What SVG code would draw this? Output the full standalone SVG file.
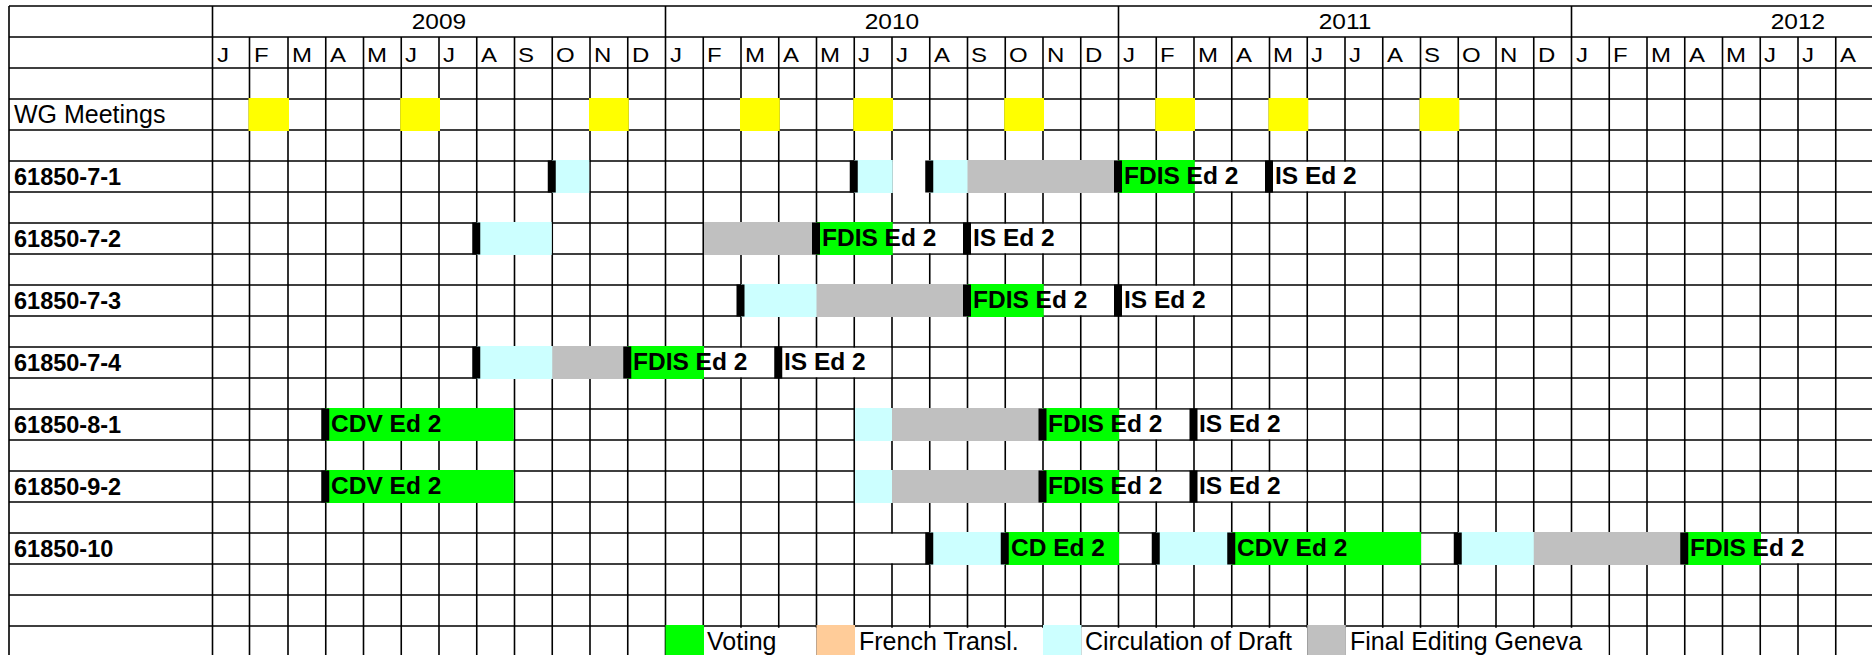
<svg xmlns="http://www.w3.org/2000/svg" width="1872" height="655" viewBox="0 0 1872 655">
<style>
.bg{fill:#fff}
.grid{stroke:#000;stroke-width:1.6;fill:none}
.wg{fill:#ffff00}
.vote{fill:#00ff00}
.circ{fill:#ccffff}
.edit{fill:#c0c0c0}
.fr{fill:#ffcc99}
.wh{fill:#fff}
.mk{fill:#000}
text{font-family:"Liberation Sans",Arial,sans-serif;fill:#000}
.yr{font-size:24.5px}
.mo{font-size:24px}
.lab{font-size:25px}
.labb{font-size:23.5px;font-weight:bold}
.bt{font-size:24.5px;font-weight:bold}
.lg{font-size:25px}
</style>
<rect class="bg" x="0" y="0" width="1872" height="655"/>
<g id="grid">
<path class="grid" d="M9 6H1872M9 37H1872M9 68H1872M9 99H1872M9 130H1872M9 161H1872M9 192H1872M9 223H1872M9 254H1872M9 285H1872M9 316H1872M9 347H1872M9 378H1872M9 409H1872M9 440H1872M9 471H1872M9 502H1872M9 533H1872M9 564H1872M9 595H1872M9 626H1872"/>
<path class="grid" d="M9 6V655M212.5 6V655M665.5 6V655M1118.5 6V655M1571.5 6V655M249.5 37V655M288 37V655M325.75 37V655M363.5 37V655M401.25 37V655M439 37V655M476.75 37V655M514.5 37V655M552.25 37V655M590 37V655M627.75 37V655M703.25 37V655M741 37V655M778.75 37V655M816.5 37V655M854.25 37V655M892 37V655M929.75 37V655M967.5 37V655M1005.25 37V655M1043 37V655M1080.75 37V655M1156.25 37V655M1194 37V655M1231.75 37V655M1269.5 37V655M1307.25 37V655M1345 37V655M1382.75 37V655M1420.5 37V655M1458.25 37V655M1496 37V655M1533.75 37V655M1609.25 37V655M1647 37V655M1684.75 37V655M1722.5 37V655M1760.25 37V655M1798 37V655M1835.75 37V655"/>
</g>
<g id="header">
<g transform="translate(0 29) scale(1 0.88)">
<text class="yr" x="439" y="0" text-anchor="middle">2009</text>
<text class="yr" x="892" y="0" text-anchor="middle">2010</text>
<text class="yr" x="1345" y="0" text-anchor="middle">2011</text>
<text class="yr" x="1798" y="0" text-anchor="middle">2012</text>
</g>
<g transform="translate(0 62) scale(1 0.88)">
<text class="mo" x="217" y="0">J</text><text class="mo" x="254" y="0">F</text><text class="mo" x="292" y="0">M</text><text class="mo" x="330" y="0">A</text><text class="mo" x="367" y="0">M</text><text class="mo" x="405" y="0">J</text><text class="mo" x="443" y="0">J</text><text class="mo" x="481" y="0">A</text><text class="mo" x="518" y="0">S</text><text class="mo" x="556" y="0">O</text><text class="mo" x="594" y="0">N</text><text class="mo" x="632" y="0">D</text>
<text class="mo" x="670" y="0">J</text><text class="mo" x="707" y="0">F</text><text class="mo" x="745" y="0">M</text><text class="mo" x="783" y="0">A</text><text class="mo" x="820" y="0">M</text><text class="mo" x="858" y="0">J</text><text class="mo" x="896" y="0">J</text><text class="mo" x="934" y="0">A</text><text class="mo" x="971" y="0">S</text><text class="mo" x="1009" y="0">O</text><text class="mo" x="1047" y="0">N</text><text class="mo" x="1085" y="0">D</text>
<text class="mo" x="1123" y="0">J</text><text class="mo" x="1160" y="0">F</text><text class="mo" x="1198" y="0">M</text><text class="mo" x="1236" y="0">A</text><text class="mo" x="1273" y="0">M</text><text class="mo" x="1311" y="0">J</text><text class="mo" x="1349" y="0">J</text><text class="mo" x="1387" y="0">A</text><text class="mo" x="1424" y="0">S</text><text class="mo" x="1462" y="0">O</text><text class="mo" x="1500" y="0">N</text><text class="mo" x="1538" y="0">D</text>
<text class="mo" x="1576" y="0">J</text><text class="mo" x="1613" y="0">F</text><text class="mo" x="1651" y="0">M</text><text class="mo" x="1689" y="0">A</text><text class="mo" x="1726" y="0">M</text><text class="mo" x="1764" y="0">J</text><text class="mo" x="1802" y="0">J</text><text class="mo" x="1840" y="0">A</text>
</g>
</g>
<g id="wg-meetings">
<text class="lab" x="14" y="123">WG Meetings</text>
<rect class="wg" x="248.5" y="98" width="40.5" height="33"/>
<rect class="wg" x="400.25" y="98" width="39.75" height="33"/>
<rect class="wg" x="589" y="98" width="39.75" height="33"/>
<rect class="wg" x="740" y="98" width="39.75" height="33"/>
<rect class="wg" x="853.25" y="98" width="39.75" height="33"/>
<rect class="wg" x="1004.25" y="98" width="39.75" height="33"/>
<rect class="wg" x="1155.25" y="98" width="39.75" height="33"/>
<rect class="wg" x="1268.5" y="98" width="39.75" height="33"/>
<rect class="wg" x="1419.5" y="98" width="39.75" height="33"/>
</g>
<g id="row-61850-7-1">
<text class="labb" x="14" y="185">61850-7-1</text>
<rect class="circ" x="552.25" y="160" width="37" height="33"/>
<rect class="circ" x="854.25" y="160" width="38.5" height="33"/>
<rect class="wh" x="892.8" y="160" width="37" height="33"/>
<rect class="circ" x="929.75" y="160" width="38.5" height="33"/>
<rect class="edit" x="967.5" y="160" width="151" height="33"/>
<rect class="vote" x="1118.5" y="160" width="76.3" height="33"/>
<rect class="wh" x="1194.8" y="161.8" width="187.2" height="29.4"/>
<rect class="mk" x="547.75" y="160.5" width="8" height="32"/>
<rect class="mk" x="849.75" y="160.5" width="8" height="32"/>
<rect class="mk" x="925.25" y="160.5" width="8" height="32"/>
<rect class="mk" x="1114" y="160.5" width="8" height="32"/>
<rect class="mk" x="1265" y="160.5" width="8" height="32"/>
<text class="bt" x="1124" y="184">FDIS Ed 2</text>
<text class="bt" x="1275" y="184">IS Ed 2</text>
</g>
<g id="row-61850-7-2">
<text class="labb" x="14" y="247">61850-7-2</text>
<rect class="circ" x="476.75" y="222" width="75" height="33"/>
<rect class="edit" x="704" y="222" width="112.5" height="33"/>
<rect class="vote" x="816.5" y="222" width="76.3" height="33"/>
<rect class="wh" x="892.8" y="223.8" width="187.2" height="29.4"/>
<rect class="mk" x="472.25" y="222.5" width="8" height="32"/>
<rect class="mk" x="812" y="222.5" width="8" height="32"/>
<rect class="mk" x="963" y="222.5" width="8" height="32"/>
<text class="bt" x="822" y="246">FDIS Ed 2</text>
<text class="bt" x="973" y="246">IS Ed 2</text>
</g>
<g id="row-61850-7-3">
<text class="labb" x="14" y="309">61850-7-3</text>
<rect class="circ" x="741" y="284" width="76.3" height="33"/>
<rect class="edit" x="816.5" y="284" width="151" height="33"/>
<rect class="vote" x="967.5" y="284" width="76.3" height="33"/>
<rect class="wh" x="1043.8" y="285.8" width="187.2" height="29.4"/>
<rect class="mk" x="736.5" y="284.5" width="8" height="32"/>
<rect class="mk" x="963" y="284.5" width="8" height="32"/>
<rect class="mk" x="1114" y="284.5" width="8" height="32"/>
<text class="bt" x="973" y="308">FDIS Ed 2</text>
<text class="bt" x="1124" y="308">IS Ed 2</text>
</g>
<g id="row-61850-7-4">
<text class="labb" x="14" y="371">61850-7-4</text>
<rect class="circ" x="476.75" y="346" width="76.3" height="33"/>
<rect class="edit" x="552.25" y="346" width="75.5" height="33"/>
<rect class="vote" x="627.75" y="346" width="76.3" height="33"/>
<rect class="wh" x="704" y="347.8" width="187.2" height="29.4"/>
<rect class="mk" x="472.25" y="346.5" width="8" height="32"/>
<rect class="mk" x="623.25" y="346.5" width="8" height="32"/>
<rect class="mk" x="774.25" y="346.5" width="8" height="32"/>
<text class="bt" x="633" y="370">FDIS Ed 2</text>
<text class="bt" x="784" y="370">IS Ed 2</text>
</g>
<g id="row-61850-8-1">
<text class="labb" x="14" y="433">61850-8-1</text>
<rect class="vote" x="325.75" y="408" width="188" height="33"/>
<rect class="circ" x="855" y="408" width="37.8" height="33"/>
<rect class="edit" x="892" y="408" width="151" height="33"/>
<rect class="vote" x="1043" y="408" width="76.3" height="33"/>
<rect class="wh" x="1119.3" y="409.8" width="187.2" height="29.4"/>
<rect class="mk" x="321.25" y="408.5" width="8" height="32"/>
<rect class="mk" x="1038.5" y="408.5" width="8" height="32"/>
<rect class="mk" x="1189.5" y="408.5" width="8" height="32"/>
<text class="bt" x="331" y="432">CDV Ed 2</text>
<text class="bt" x="1048" y="432">FDIS Ed 2</text>
<text class="bt" x="1199" y="432">IS Ed 2</text>
</g>
<g id="row-61850-9-2">
<text class="labb" x="14" y="495">61850-9-2</text>
<rect class="vote" x="325.75" y="470" width="188" height="33"/>
<rect class="circ" x="855" y="470" width="37.8" height="33"/>
<rect class="edit" x="892" y="470" width="151" height="33"/>
<rect class="vote" x="1043" y="470" width="76.3" height="33"/>
<rect class="wh" x="1119.3" y="471.8" width="187.2" height="29.4"/>
<rect class="mk" x="321.25" y="470.5" width="8" height="32"/>
<rect class="mk" x="1038.5" y="470.5" width="8" height="32"/>
<rect class="mk" x="1189.5" y="470.5" width="8" height="32"/>
<text class="bt" x="331" y="494">CDV Ed 2</text>
<text class="bt" x="1048" y="494">FDIS Ed 2</text>
<text class="bt" x="1199" y="494">IS Ed 2</text>
</g>
<g id="row-61850-10">
<text class="labb" x="14" y="557">61850-10</text>
<rect class="wh" x="855.1" y="533.8" width="74" height="29.4"/>
<rect class="circ" x="929.75" y="532" width="75.5" height="33"/>
<rect class="vote" x="1005.25" y="532" width="114" height="33"/>
<rect class="wh" x="1119.3" y="533.8" width="37" height="29.4"/>
<rect class="circ" x="1156.25" y="532" width="75.5" height="33"/>
<rect class="vote" x="1231.75" y="532" width="189.5" height="33"/>
<rect class="wh" x="1421.3" y="533.8" width="37" height="29.4"/>
<rect class="circ" x="1458.25" y="532" width="76.3" height="33"/>
<rect class="edit" x="1533.75" y="532" width="151" height="33"/>
<rect class="vote" x="1684.75" y="532" width="76.3" height="33"/>
<rect class="wh" x="1761" y="533.8" width="74" height="29.4"/>
<rect class="mk" x="925.25" y="532.5" width="8" height="32"/>
<rect class="mk" x="1000.75" y="532.5" width="8" height="32"/>
<rect class="mk" x="1151.75" y="532.5" width="8" height="32"/>
<rect class="mk" x="1227.25" y="532.5" width="8" height="32"/>
<rect class="mk" x="1453.75" y="532.5" width="8" height="32"/>
<rect class="mk" x="1680.25" y="532.5" width="8" height="32"/>
<text class="bt" x="1011" y="556">CD Ed 2</text>
<text class="bt" x="1237" y="556">CDV Ed 2</text>
<text class="bt" x="1690" y="556">FDIS Ed 2</text>
</g>
<g id="legend">
<rect class="vote" x="665.5" y="625" width="38.5" height="31"/>
<rect class="wh" x="704" y="627.8" width="112.5" height="28"/>
<rect class="fr" x="816.5" y="625" width="38.5" height="31"/>
<rect class="wh" x="855" y="627.8" width="188" height="28"/>
<rect class="circ" x="1043" y="625" width="38.5" height="31"/>
<rect class="wh" x="1081.5" y="627.8" width="225.75" height="28"/>
<rect class="edit" x="1307.25" y="625" width="38.5" height="31"/>
<rect class="wh" x="1345.75" y="627.8" width="262.7" height="28"/>
<text class="lg" x="707" y="650">Voting</text>
<text class="lg" x="859" y="650">French Transl.</text>
<text class="lg" x="1085" y="650">Circulation of Draft</text>
<text class="lg" x="1350" y="650">Final Editing Geneva</text>
</g>
</svg>
